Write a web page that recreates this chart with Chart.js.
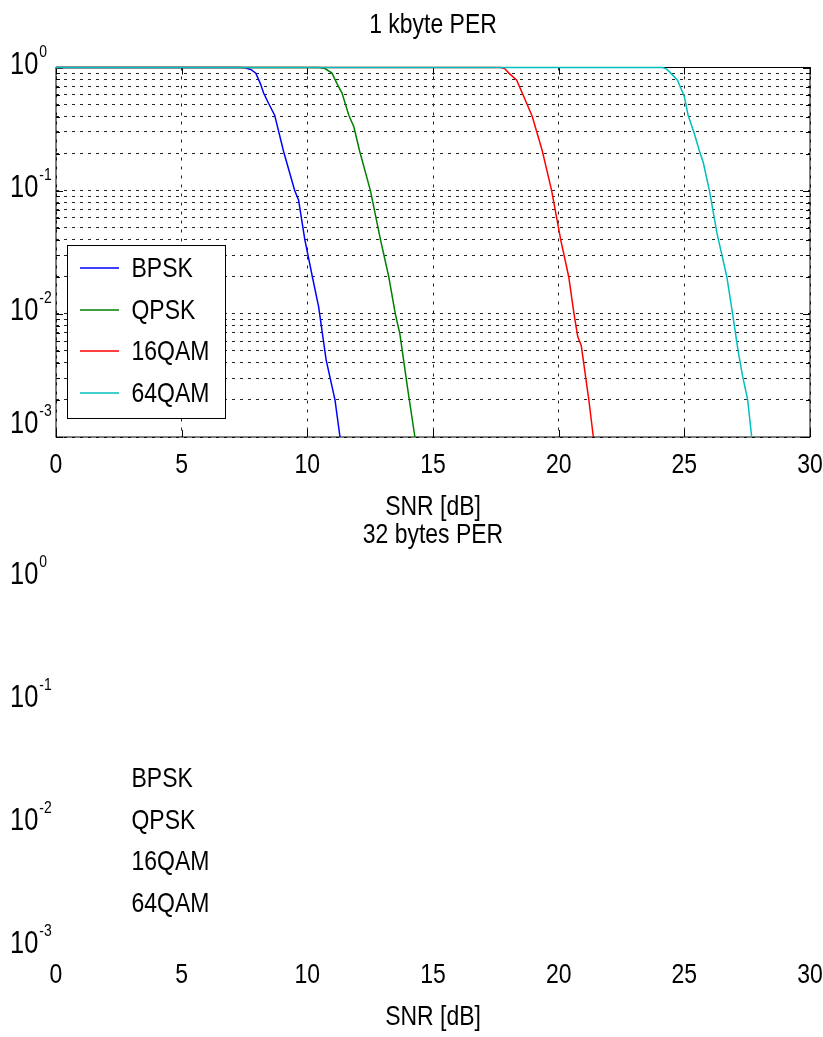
<!DOCTYPE html>
<html>
<head>
<meta charset="utf-8">
<script src="https://cdn.jsdelivr.net/npm/chart.js@4.4.1/dist/chart.umd.min.js"></script>
<style>
  html, body { margin: 0; padding: 0; background: #fff; }
  #wrap { position: relative; width: 823px; height: 1037px; overflow: hidden; }
  canvas { position: absolute; left: 0; }
  #perTop { top: 0; }
  #perBottom { top: 510px; }
</style>
</head>
<body>
<div id="wrap">
  <canvas id="perTop" width="823" height="524"></canvas>
  <canvas id="perBottom" width="823" height="527"></canvas>
</div>
<script>
const FONT = "'Liberation Sans', Arial, sans-serif";
const SX = 0.82; // the original text is a narrow Helvetica, so squeeze it a bit

const SERIES_LABELS = ['BPSK', 'QPSK', '16QAM', '64QAM'];
const SERIES_COLORS = ['#0000ff', '#008000', '#ff0000', '#00bfbf'];

// PER curves for the 1 kbyte packet (SNR in dB)
const bpskSnr  = [0, 7.3, 7.5, 7.75, 7.95, 8.13, 8.26, 8.46, 8.7, 9.05, 9.5, 9.65, 9.9, 10.2, 10.45, 10.75, 11.1, 11.3];
const bpskPer  = [1, 1, 0.995, 0.965, 0.9, 0.74, 0.62, 0.51, 0.41, 0.21, 0.1, 0.084, 0.04, 0.02, 0.0114, 0.0042, 0.002, 0.001];
const qpskSnr  = [0, 10.45, 10.7, 10.98, 11.18, 11.38, 11.65, 11.85, 12.08, 12.51, 12.91, 13.24, 13.5, 13.68, 14.0, 14.28];
const qpskPer  = [1, 1, 0.98, 0.9, 0.74, 0.62, 0.41, 0.33, 0.21, 0.1, 0.04, 0.02, 0.01, 0.0069, 0.0024, 0.001];
const qam16Snr = [0, 17.69, 17.85, 18.02, 18.33, 18.73, 18.95, 19.35, 19.72, 20.08, 20.4, 20.61, 20.76, 20.9, 21.2, 21.38];
const qam16Per = [1, 1, 0.98, 0.9, 0.79, 0.51, 0.40, 0.21, 0.1, 0.04, 0.02, 0.01, 0.0065, 0.0055, 0.002, 0.001];
const qam64Snr = [0, 24.13, 24.3, 24.46, 24.73, 25.0, 25.15, 25.4, 25.6, 25.75, 26.0, 26.3, 26.48, 26.69, 26.92, 27.14, 27.32, 27.52, 27.68];
const qam64Per = [1, 1, 0.97, 0.9, 0.79, 0.58, 0.41, 0.29, 0.21, 0.17, 0.1, 0.045, 0.031, 0.02, 0.01, 0.005, 0.0031, 0.002, 0.001];

const xTicks = [0, 5, 10, 15, 20, 25, 30];
const yDecades = [0.001, 0.01, 0.1, 1];
const yMantissas = [1, 2, 3, 4, 5, 6, 7, 8, 9];

const topSeries = [
  [bpskSnr, bpskPer], [qpskSnr, qpskPer], [qam16Snr, qam16Per], [qam64Snr, qam64Per],
];

const PLOT_TOP = 67.5;
const PLOT_BOTTOM = 437;

function drawText(ctx, str, x, y, size, align) {
  ctx.save();
  ctx.font = `${size}px ${FONT}`;
  const w = ctx.measureText(str).width * SX;
  const left = align === 'center' ? x - w / 2 : align === 'right' ? x - w : x;
  ctx.translate(left, y);
  ctx.scale(SX, 1);
  ctx.textAlign = 'left';
  ctx.textBaseline = 'alphabetic';
  ctx.fillStyle = '#000';
  ctx.fillText(str, 0, 0);
  ctx.restore();
  return w;
}

// full box with inward tick marks, drawn under the curves
const boxPlugin = {
  id: 'matlabBox',
  beforeDatasetsDraw(chart, args, opts) {
    if (!opts.show) return;
    const { ctx, chartArea: a, scales: { x, y } } = chart;
    ctx.save();
    ctx.strokeStyle = '#000';
    ctx.lineWidth = 1;
    ctx.setLineDash([]);
    ctx.strokeRect(a.left, a.top, a.right - a.left, a.bottom - a.top);
    ctx.beginPath();
    x.ticks.forEach(t => {
      const px = Math.round(x.getPixelForValue(t.value)) + 0.5;
      ctx.moveTo(px, a.bottom); ctx.lineTo(px, a.bottom - 7);
      ctx.moveTo(px, a.top); ctx.lineTo(px, a.top + 7);
    });
    y.ticks.forEach(t => {
      const py = Math.round(y.getPixelForValue(t.value)) + 0.5;
      const len = yDecades.includes(t.value) ? 7 : 4;
      ctx.moveTo(a.left, py); ctx.lineTo(a.left + len, py);
      ctx.moveTo(a.right, py); ctx.lineTo(a.right - len, py);
    });
    ctx.stroke();
    ctx.restore();
  }
};

// all the text: title, tick labels (10 with raised exponent), axis title
const textPlugin = {
  id: 'axisText',
  afterDraw(chart, args, opts) {
    const { ctx, chartArea: a, scales: { x, y } } = chart;
    const cx = (a.left + a.right) / 2;
    drawText(ctx, opts.title, cx, 33, 28, 'center');
    x.ticks.forEach(t => {
      drawText(ctx, String(t.value), x.getPixelForValue(t.value), a.bottom + 36, 28, 'center');
    });
    drawText(ctx, 'SNR [dB]', cx, a.bottom + 78, 28, 'center');
    yDecades.forEach((v, i) => {
      const py = y.getPixelForValue(v);
      const base = (i === 0 && opts.liftLowest) ? py - 4 : py + 6;
      const w = drawText(ctx, '10', 10, base, 31, 'left');
      drawText(ctx, String(Math.round(Math.log10(v))), 10 + w + 1, base - 17, 17, 'left');
    });
  }
};

// legend box in the lower left of the axes
const legendPlugin = {
  id: 'boxLegend',
  afterDraw(chart, args, opts) {
    const { ctx, chartArea: a } = chart;
    const x0 = a.left + 11, y0 = Math.round(a.bottom - 192), w = 158, h = 173;
    ctx.save();
    if (opts.frame) {
      ctx.fillStyle = '#fff';
      ctx.fillRect(x0, y0, w, h);
      ctx.strokeStyle = '#000';
      ctx.lineWidth = 1;
      ctx.setLineDash([]);
      ctx.strokeRect(x0 + 0.5, y0 + 0.5, w, h);
    }
    chart.data.datasets.forEach((ds, i) => {
      const ly = Math.round(y0 + 23 + i * 41.5);
      if (opts.frame) {
        ctx.strokeStyle = ds.borderColor;
        ctx.lineWidth = 1.4;
        ctx.beginPath();
        ctx.moveTo(x0 + 13, ly); ctx.lineTo(x0 + 52, ly);
        ctx.stroke();
      }
      drawText(ctx, ds.label, x0 + 64.5, ly + 9, 28, 'left');
    });
    ctx.restore();
  }
};

function makeChart(canvasId, titleText, series, drawMarks) {
  const canvas = document.getElementById(canvasId);
  const H = canvas.height;
  const datasets = SERIES_LABELS.map((label, i) => ({
    label,
    data: series ? series[i][0].map((s, k) => ({ x: s, y: series[i][1][k] })) : [],
    borderColor: SERIES_COLORS[i],
    borderWidth: 1.5,
    pointRadius: 0,
    tension: 0,
    fill: false,
    clip: 2,
    order: SERIES_LABELS.length - i,
  }));
  return new Chart(canvas.getContext('2d'), {
    type: 'line',
    data: { datasets },
    options: {
      responsive: false,
      animation: false,
      events: [],
      layout: { padding: { left: 0, right: 13, top: PLOT_TOP, bottom: 0 } },
      plugins: {
        legend: { display: false },
        tooltip: { enabled: false },
        title: { display: false },
        matlabBox: { show: drawMarks },
        boxLegend: { frame: drawMarks },
        axisText: { title: titleText, liftLowest: drawMarks },
      },
      scales: {
        x: {
          type: 'linear',
          min: 0,
          max: 30,
          afterBuildTicks: s => { s.ticks = xTicks.map(v => ({ value: v })); },
          afterFit: s => { s.height = H - PLOT_BOTTOM; s.paddingLeft = 0; s.paddingRight = 0; },
          ticks: { display: false },
          grid: { display: drawMarks, drawTicks: false, color: '#222', lineWidth: 1 },
          border: { display: false, dash: [3, 6] },
        },
        y: {
          type: 'logarithmic',
          min: 0.001,
          max: 1,
          afterBuildTicks: s => {
            const ticks = [];
            yDecades.forEach(d => yMantissas.forEach(m => {
              const v = +(d * m).toPrecision(3);
              if (v <= 1) ticks.push({ value: v });
            }));
            s.ticks = ticks;
          },
          afterFit: s => { s.width = 56; s.paddingTop = 0; s.paddingBottom = 0; },
          ticks: { display: false },
          grid: { display: drawMarks, drawTicks: false, color: '#222', lineWidth: 1 },
          border: { display: false, dash: [3, 5] },
        },
      },
    },
    plugins: [boxPlugin, textPlugin, legendPlugin],
  });
}

makeChart('perTop', '1 kbyte PER', topSeries, true);
makeChart('perBottom', '32 bytes PER', null, false);
</script>
</body>
</html>
